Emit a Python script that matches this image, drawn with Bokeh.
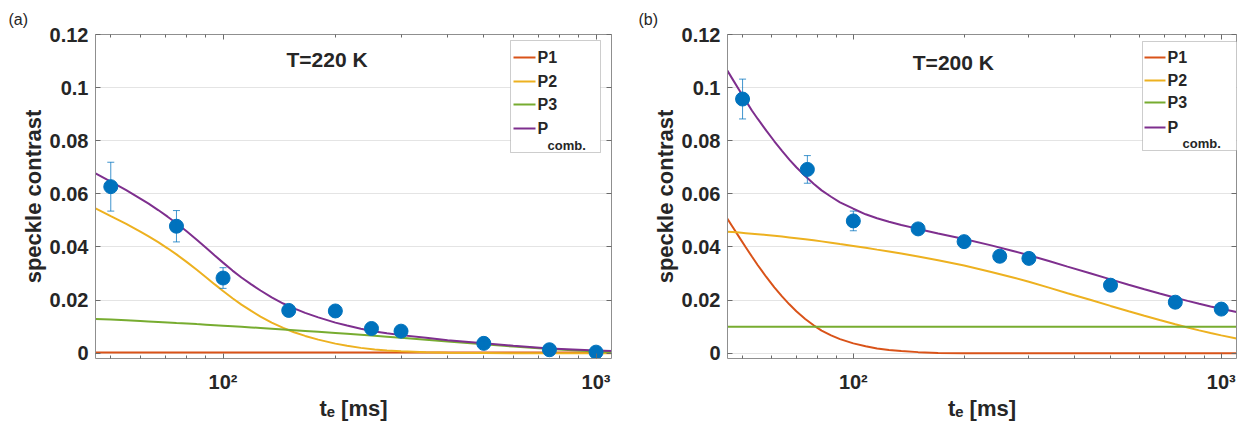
from bokeh.plotting import figure
from bokeh.layouts import row
from bokeh.models import (ColumnDataSource, Whisker, TeeHead, FixedTicker, LinearAxis, LogAxis,
                          NumeralTickFormatter, Label, BoxAnnotation, Range1d)
from bokeh.embed import file_html
from bokeh.resources import INLINE

# ---------------- data ----------------
te = [50, 75, 100, 150, 200, 250, 300, 500, 750, 1000]

sc_220 = [0.0627, 0.0478, 0.0283, 0.0161, 0.0159, 0.0093, 0.0083, 0.0037, 0.0013, 0.0004]
err_220 = [0.0092, 0.0059, 0.0039, 0.0015, 0.0015, 0.0012, 0.0012, 0.0010, 0.0010, 0.0010]
sc_200 = [0.0957, 0.0692, 0.0498, 0.0468, 0.0420, 0.0365, 0.0357, 0.0256, 0.0192, 0.0166]
err_200 = [0.0075, 0.0052, 0.0037, 0.0015, 0.0015, 0.0012, 0.0012, 0.0010, 0.0010, 0.0010]

# fitted components, T = 220 K
fit_x_220 = [45.5, 50, 55, 60, 63, 67, 71, 75, 80, 85, 90, 95, 100, 106, 112, 119, 126, 135,
             145, 155, 166, 180, 200, 215, 234, 255, 275, 300, 350, 400, 500, 600, 750, 1000,
             1100]
p2_220 = [0.0545, 0.0516, 0.0487, 0.0458, 0.0441, 0.0418, 0.0395, 0.0372, 0.0343, 0.0314,
          0.0286, 0.0259, 0.0234, 0.0207, 0.0183, 0.0159, 0.0138, 0.0115, 0.0095, 0.0079,
          0.0065, 0.0051, 0.0036, 0.0028, 0.0020, 0.0014, 0.0010, 0.0007, 0.0004, 0.0002,
          0.0001, 0.0, 0.0, 0.0, 0.0]
p3_220 = [0.0129, 0.01265, 0.01238, 0.01212, 0.01197, 0.01177, 0.01158, 0.01139, 0.01117,
          0.01095, 0.01075, 0.01055, 0.01036, 0.01014, 0.00993, 0.0097, 0.00948, 0.00921,
          0.00893, 0.00866, 0.00838, 0.00805, 0.0076, 0.00729, 0.00692, 0.00654, 0.0062,
          0.0058, 0.00507, 0.00443, 0.00334, 0.00249, 0.00154, 0.00066, 0.00045]
pc_220 = [0.0677, 0.0646, 0.0614, 0.0582, 0.0564, 0.0539, 0.0514, 0.0489, 0.0458, 0.0427,
          0.0397, 0.0368, 0.0341, 0.0311, 0.0285, 0.0259, 0.0236, 0.0210, 0.0187, 0.0169,
          0.0152, 0.0135, 0.0115, 0.0104, 0.0092, 0.0082, 0.0075, 0.0068, 0.0058, 0.0049,
          0.0037, 0.0028, 0.0018, 0.0010, 0.0008]
p1_x_220 = [45.5, 1100]
p1_220 = [0.0003, 0.0003]

# fitted components, T = 200 K
fit_x_200 = [45, 47, 49, 51, 53, 55, 58, 61, 64, 67, 70, 74, 78, 82, 87, 92, 100, 108, 116,
             125, 135, 150, 170, 200, 237, 270, 300, 340, 382, 440, 500, 560, 618, 680, 750,
             810, 871, 935, 1000, 1100]
p1_200 = [0.0516, 0.0475, 0.0436, 0.0399, 0.0364, 0.0331, 0.0287, 0.0248, 0.0214, 0.0184,
          0.0158, 0.0129, 0.0105, 0.0085, 0.0067, 0.0053, 0.0037, 0.0026, 0.0018, 0.0012,
          0.0008, 0.0004, 0.0001, 0.0, 0.0, 0.0, 0.0, 0.0, 0.0, 0.0, 0.0, 0.0, 0.0, 0.0,
          0.0, 0.0, 0.0, 0.0, 0.0, 0.0]
p2_200 = [0.0458, 0.0456, 0.0454, 0.0452, 0.0450, 0.0448, 0.0445, 0.0442, 0.0439, 0.0436,
          0.0433, 0.0429, 0.0425, 0.0421, 0.0416, 0.0411, 0.0404, 0.0397, 0.0390, 0.0383,
          0.0375, 0.0364, 0.0350, 0.0330, 0.0306, 0.0286, 0.0269, 0.0247, 0.0226, 0.0201,
          0.0178, 0.0158, 0.0141, 0.0125, 0.0109, 0.0097, 0.0086, 0.0076, 0.0067, 0.0055]
pc_200 = [0.1074, 0.1031, 0.0990, 0.0951, 0.0914, 0.0882, 0.0838, 0.0798, 0.0762, 0.0729,
          0.0700, 0.0667, 0.0638, 0.0613, 0.0589, 0.0568, 0.0544, 0.0523, 0.0508, 0.0495,
          0.0483, 0.0468, 0.0451, 0.0430, 0.0406, 0.0386, 0.0369, 0.0347, 0.0326, 0.0301,
          0.0278, 0.0258, 0.0241, 0.0225, 0.0209, 0.0197, 0.0186, 0.0176, 0.0167, 0.0155]
p3_x_200 = [45, 1100]
p3_200 = [0.0100, 0.0100]

x_ticks = [100, 1000]
x_minor = [50, 60, 70, 80, 90, 200, 300, 400, 500, 600, 700, 800, 900]
x_tick_labels = {100: "10\u00b2", 1000: "10\u00b3"}
y_ticks = [0, 0.02, 0.04, 0.06, 0.08, 0.1, 0.12]

legend_names = ["P1", "P2", "P3", "P"]
C_P1, C_P2, C_P3, C_PC, C_PT = "#D95319", "#EDB120", "#77AC30", "#7E2F8E", "#0072BD"

FONT = "Liberation Sans"
AXC = "#8f8f8f"
TKC = "#6a6a6a"
TXT = "#262626"


def style_axis(ax, show_labels=True):
    ax.axis_line_color = AXC
    ax.major_tick_line_color = TKC
    ax.minor_tick_line_color = TKC
    ax.major_tick_in = 5
    ax.major_tick_out = 0
    ax.minor_tick_in = 3
    ax.minor_tick_out = 0
    ax.major_label_text_font = FONT
    ax.major_label_text_font_style = "bold"
    ax.major_label_text_color = TXT
    ax.axis_label_text_font = FONT
    ax.axis_label_text_font_style = "bold"
    ax.axis_label_text_color = TXT
    ax.axis_label_text_font_size = "22px"
    if show_labels:
        ax.major_label_text_font_size = "20px"
    else:
        ax.major_label_text_font_size = "1px"
        ax.major_label_text_alpha = 0
        ax.major_label_standoff = 0


def make_panel(tag, tag_offset, title_txt, title_x, title_y, bl, br, bt, bb, fw, curves, sc,
               err, leg_left, leg_right, leg_top, leg_bottom, leg_rows, leg_line, leg_text,
               comb_xy):
    p = figure(x_axis_type="log", x_range=Range1d(45.5, 1100), y_range=Range1d(-0.002, 0.12),
               frame_width=fw, frame_height=324, min_border_left=bl, min_border_right=br,
               min_border_top=bt, min_border_bottom=bb, output_backend="svg",
               toolbar_location=None, background_fill_color="white",
               border_fill_color="white", outline_line_color=None)
    p.title.text = tag
    p.title.align = "left"
    p.title.offset = tag_offset
    p.title.standoff = 13
    p.title.text_font = FONT
    p.title.text_font_style = "normal"
    p.title.text_font_size = "16px"
    p.title.text_color = TXT

    p.xgrid.visible = False
    p.ygrid.ticker = FixedTicker(ticks=y_ticks)
    p.ygrid.grid_line_color = "#e4e4e4"
    p.ygrid.grid_line_width = 1

    p.xaxis.ticker = FixedTicker(ticks=x_ticks, minor_ticks=x_minor)
    p.xaxis.major_label_overrides = x_tick_labels
    p.yaxis.ticker = FixedTicker(ticks=y_ticks)
    p.yaxis.formatter = NumeralTickFormatter(format="0.[00]")
    style_axis(p.xaxis[0])
    style_axis(p.yaxis[0])
    p.xaxis.axis_label = "t\u2091 [ms]"
    p.yaxis.axis_label = "speckle contrast"
    p.xaxis.major_label_standoff = 12
    p.xaxis.axis_label_standoff = 0
    p.yaxis.major_label_standoff = 7
    p.yaxis.axis_label_standoff = 1

    top = LogAxis(ticker=FixedTicker(ticks=x_ticks, minor_ticks=x_minor))
    style_axis(top, show_labels=False)
    p.add_layout(top, "above")
    right = LinearAxis(ticker=FixedTicker(ticks=y_ticks))
    style_axis(right, show_labels=False)
    p.add_layout(right, "right")

    for xs, ys, c in curves:
        p.line(xs, ys, line_color=c, line_width=2)

    src = ColumnDataSource(dict(x=te, upper=[s + e for s, e in zip(sc, err)],
                                lower=[s - e for s, e in zip(sc, err)]))
    p.add_layout(Whisker(source=src, base="x", upper="upper", lower="lower",
                         line_color=C_PT, line_alpha=0.75, line_width=1,
                         upper_head=TeeHead(size=7, line_color=C_PT, line_alpha=0.75),
                         lower_head=TeeHead(size=7, line_color=C_PT, line_alpha=0.75),
                         level="glyph"))
    p.scatter(te, sc, size=14, fill_color=C_PT, line_color=C_PT)

    p.add_layout(Label(x=title_x, y=title_y, text=title_txt, text_align="center",
                       text_baseline="middle", text_font=FONT, text_font_style="bold",
                       text_font_size="21px", text_color=TXT))

    # legend
    p.add_layout(BoxAnnotation(left=leg_left, right=leg_right, top=leg_top, bottom=leg_bottom,
                               left_units="screen", right_units="screen", top_units="screen",
                               bottom_units="screen", fill_color="white", fill_alpha=1,
                               line_color="#5a5a5a", line_width=1))
    leg_colors = [C_P1, C_P2, C_P3, C_PC]
    for name, yy, c in zip(legend_names, leg_rows, leg_colors):
        p.add_layout(BoxAnnotation(left=leg_line[0], right=leg_line[1], top=yy + 1,
                                   bottom=yy - 1, left_units="screen", right_units="screen",
                                   top_units="screen", bottom_units="screen",
                                   fill_color=c, fill_alpha=1, line_alpha=0))
        p.add_layout(Label(x=leg_text, y=yy, x_units="screen", y_units="screen", text=name,
                           text_baseline="middle", text_font=FONT, text_font_style="bold",
                           text_font_size="16px", text_color=TXT))
    p.add_layout(Label(x=comb_xy[0], y=comb_xy[1], x_units="screen", y_units="screen",
                       text="comb.", text_baseline="middle", text_font=FONT,
                       text_font_style="bold", text_font_size="13px", text_color=TXT))
    return p


pa = make_panel("(a)", -87, "T=220 K", 190, 0.1105, 95, 16, 32, 80, 516,
                [(p1_x_220, p1_220, C_P1), (fit_x_220, p2_220, C_P2),
                 (fit_x_220, p3_220, C_P3), (fit_x_220, pc_220, C_PC)],
                sc_220, err_220,
                415, 505, 318, 206, [301, 277, 254, 230], (418, 440), 442, (452, 213))

pb = make_panel("(b)", -89, "T=200 K", 187, 0.1095, 100, 10, 34, 78, 509,
                [(fit_x_200, p1_200, C_P1), (fit_x_200, p2_200, C_P2),
                 (p3_x_200, p3_200, C_P3), (fit_x_200, pc_200, C_PC)],
                sc_200, err_200,
                415, 515, 317, 208, [301, 278, 256, 231], (417, 438), 440, (455, 215))

layout = row(pa, pb)
open("out.html", "w").write(file_html(layout, INLINE))
